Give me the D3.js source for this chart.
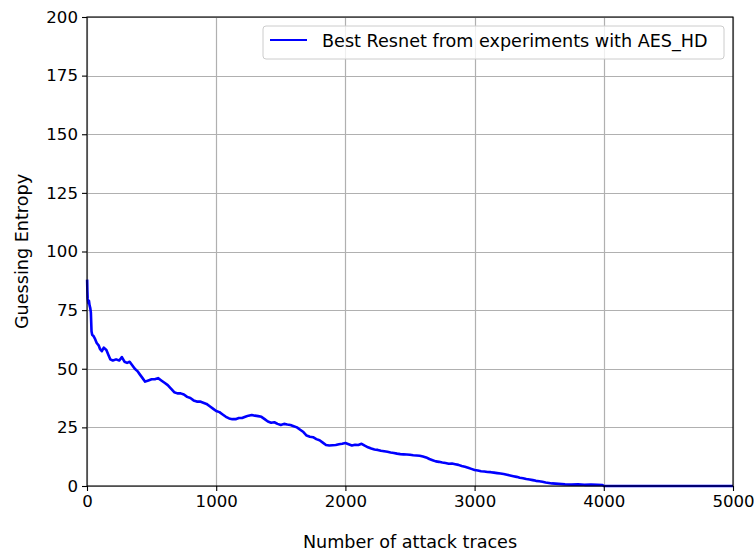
<!DOCTYPE html>
<html>
<head>
<meta charset="utf-8">
<script src="https://cdn.jsdelivr.net/npm/d3@7"></script>
<style>
  html, body { margin: 0; padding: 0; background: #fff; }
  svg { display: block; font-family: "DejaVu Sans", sans-serif; }
</style>
</head>
<body>
<svg id="chart" width="754" height="551"></svg>
<script>
// Number of attack traces at which guessing entropy was recorded
const traces = [1, 3, 5, 10, 15, 20, 25, 30, 35, 40, 50, 60, 75, 90, 100, 115, 130, 150, 165, 180, 200,
  225, 250, 270, 290, 310, 330, 350, 370, 390, 410, 430, 450, 475, 500, 525, 550, 575, 600, 625, 650,
  675, 700, 725, 750, 775, 800, 825, 850, 875, 900, 925, 950, 975, 1000, 1025, 1050, 1075, 1100, 1125, 1150,
  1175, 1200, 1225, 1250, 1275, 1300, 1325, 1350, 1375, 1400, 1425, 1450, 1475, 1500, 1525, 1550, 1575, 1600, 1625, 1650,
  1675, 1700, 1725, 1750, 1775, 1800, 1825, 1850, 1875, 1900, 1925, 1950, 1975, 2000, 2025, 2050, 2075, 2100, 2125, 2150,
  2175, 2200, 2225, 2250, 2275, 2300, 2325, 2350, 2375, 2400, 2425, 2450, 2475, 2500, 2525, 2550, 2575, 2600, 2625, 2650,
  2675, 2700, 2725, 2750, 2775, 2800, 2825, 2850, 2875, 2900, 2925, 2950, 2975, 3000, 3025, 3050, 3075, 3100, 3125, 3150,
  3175, 3200, 3225, 3250, 3275, 3300, 3325, 3350, 3375, 3400, 3425, 3450, 3475, 3500, 3525, 3550, 3575, 3600, 3650, 3700,
  3750, 3800, 3850, 3900, 3950, 3990, 4000, 4500, 5000];

// Guessing entropy of the best ResNet on AES_HD
const guessingEntropy = [88, 83, 80, 78, 79, 77, 76, 74, 66, 64.5, 64, 63, 61, 60, 58.5, 57.5, 59, 58, 56, 54, 53.5,
  54, 53.5, 55, 53, 52.5, 53, 51.5, 50, 49, 47.5, 46, 44.5, 45, 45.5, 45.5, 46, 45, 44, 43, 41.5,
  40, 39.5, 39.5, 39, 38, 37.5, 36.5, 36, 36, 35.5, 35, 34, 33, 32, 31.5, 30.5, 29.5, 28.8, 28.5, 28.5,
  29, 29, 29.5, 30, 30.3, 30, 29.8, 29.5, 28.5, 27.5, 27, 27.2, 26.5, 26, 26.5, 26.2, 26, 25.5, 25, 24,
  23, 21.5, 21, 20.8, 20, 19.5, 18.5, 17.5, 17.3, 17.4, 17.5, 17.8, 18, 18.3, 17.8, 17.3, 17.6, 17.5, 18, 17.2,
  16.5, 16, 15.6, 15.4, 15, 14.8, 14.6, 14.3, 14.1, 13.8, 13.6, 13.5, 13.4, 13.3, 13.1, 13, 12.9, 12.6, 12.2, 11.5,
  11, 10.5, 10.3, 10, 9.8, 9.5, 9.6, 9.3, 9, 8.5, 8.2, 7.8, 7.3, 6.8, 6.6, 6.3, 6.2, 6, 5.9, 5.7,
  5.5, 5.3, 5.1, 4.8, 4.5, 4.2, 3.9, 3.5, 3.3, 3, 2.8, 2.5, 2.2, 2, 1.8, 1.5, 1.3, 1.1, 0.9, 0.7,
  0.6, 0.7, 0.5, 0.6, 0.5, 0.4, 0, 0, 0];

const xTicks = [0, 1000, 2000, 3000, 4000, 5000];
const yTicks = [0, 25, 50, 75, 100, 125, 150, 175, 200];
const seriesLabel = "Best Resnet from experiments with AES_HD";
const xTitle = "Number of attack traces";
const yTitle = "Guessing Entropy";

const FS = 17.6;      // titles and legend
const TICK_FS = 16.6; // tick labels
const svg = d3.select("#chart");
const margin = { left: 87, right: 21, top: 17, bottom: 65 };
const W = 754, H = 551;
const x = d3.scaleLinear().domain([0, 5000]).range([margin.left, W - margin.right]);
const y = d3.scaleLinear().domain([0, 200]).range([H - margin.bottom, margin.top]);

// grid
const grid = svg.append("g").attr("stroke", "#b0b0b0").attr("stroke-width", 1.2);
xTicks.forEach(t => grid.append("line")
  .attr("x1", Math.round(x(t)) + 0.5).attr("x2", Math.round(x(t)) + 0.5)
  .attr("y1", y(0)).attr("y2", y(200)));
yTicks.forEach(t => grid.append("line")
  .attr("y1", Math.round(y(t)) + 0.5).attr("y2", Math.round(y(t)) + 0.5)
  .attr("x1", x(0)).attr("x2", x(5000)));

// series
const line = d3.line().x((d, i) => x(traces[i])).y(d => y(d));
svg.append("path")
  .datum(guessingEntropy)
  .attr("d", line)
  .attr("fill", "none")
  .attr("stroke", "#0000ff")
  .attr("stroke-width", 2.6)
  .attr("stroke-linejoin", "round");

// axes
const xAxis = d3.axisBottom(x).tickValues(xTicks).tickFormat(d3.format("d")).tickSize(5).tickPadding(4);
const yAxis = d3.axisLeft(y).tickValues(yTicks).tickFormat(d3.format("d")).tickSize(5).tickPadding(4);
const gx = svg.append("g").attr("transform", `translate(0,${y(0)})`).call(xAxis);
const gy = svg.append("g").attr("transform", `translate(${x(0)},0)`).call(yAxis);
[gx, gy].forEach(g => {
  g.select(".domain").remove();
  g.selectAll("text").attr("font-size", TICK_FS).attr("fill", "#000").attr("font-family", "DejaVu Sans");
  g.selectAll("line").attr("stroke", "#000").attr("stroke-width", 1.1);
});

// frame
svg.append("rect")
  .attr("x", x(0)).attr("y", y(200))
  .attr("width", x(5000) - x(0)).attr("height", y(0) - y(200))
  .attr("fill", "none").attr("stroke", "#000").attr("stroke-width", 1.1);

// axis titles
svg.append("text").attr("x", (x(0) + x(5000)) / 2).attr("y", 548)
  .attr("text-anchor", "middle").attr("font-size", FS).text(xTitle);
svg.append("text").attr("transform", `translate(28,${(y(0) + y(200)) / 2}) rotate(-90)`)
  .attr("text-anchor", "middle").attr("font-size", FS).text(yTitle);

// legend
const lg = svg.append("g");
lg.append("rect").attr("x", 263).attr("y", 26).attr("width", 461).attr("height", 33)
  .attr("rx", 3).attr("fill", "#fff").attr("fill-opacity", 0.8)
  .attr("stroke", "#cccccc").attr("stroke-width", 1);
lg.append("line").attr("x1", 270).attr("x2", 307).attr("y1", 40).attr("y2", 40)
  .attr("stroke", "#0000ff").attr("stroke-width", 2.2);
lg.append("text").attr("x", 322).attr("y", 47).attr("font-size", FS).text(seriesLabel);
</script>
</body>
</html>
